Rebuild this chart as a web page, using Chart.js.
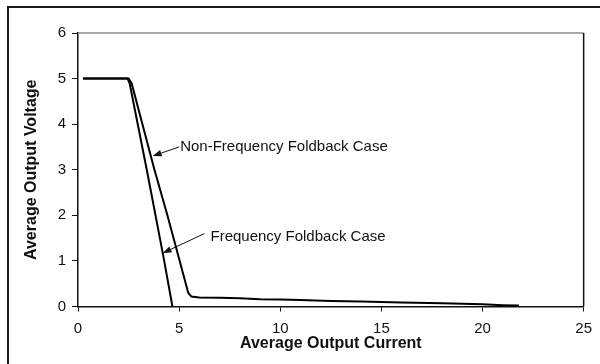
<!DOCTYPE html>
<html>
<head>
<meta charset="utf-8">
<script src="https://cdn.jsdelivr.net/npm/chart.js@4.4.1/dist/chart.umd.min.js"></script>
<style>
  html, body { margin: 0; padding: 0; background: #fff; }
  #wrap { position: relative; width: 600px; height: 364px; overflow: hidden; }
  #frame { position: absolute; left: 7px; top: 6px; width: 700px; height: 500px;
           border-left: 2.5px solid #1a1a1a; border-top: 2.5px solid #1a1a1a; pointer-events: none; }
  canvas { position: absolute; left: 0; top: 0; }
</style>
</head>
<body>
<div id="wrap">
  <canvas id="c" width="600" height="364"></canvas>
  <div id="frame"></div>
</div>
<script>
// Non-Frequency Foldback Case (current, voltage)
const nonFoldX = [0.25, 2.5, 2.65, 3.78, 4.42, 5.45, 5.6, 6, 7, 8, 9, 10, 11, 12.5, 14, 16, 18, 20, 21, 21.8];
const nonFoldY = [5, 5, 4.9, 3, 2, 0.3, 0.22, 0.2, 0.19, 0.18, 0.16, 0.155, 0.14, 0.12, 0.11, 0.09, 0.07, 0.05, 0.03, 0.02];
// Frequency Foldback Case
const foldX = [0.25, 2.45, 2.55, 3.4, 4.2, 4.67];
const foldY = [5, 5, 4.9, 3, 1.15, 0];

const xTicks = [0, 5, 10, 15, 20, 25];
const yTicks = [0, 1, 2, 3, 4, 5, 6];

const labelTexts = ['Non-Frequency Foldback Case', 'Frequency Foldback Case'];
const labelAt = [[5.05, 3.5], [6.55, 1.53]];
const arrowFrom = [[5.0, 3.5], [6.25, 1.6]];
const arrowTo = [[3.69, 3.3], [4.18, 1.17]];

const toPts = (xs, ys) => xs.map((x, i) => ({ x: x, y: ys[i] }));

const annotationPlugin = {
  id: 'annot',
  afterDatasetsDraw(chart) {
    const { ctx, scales: { x, y } } = chart;
    ctx.save();
    ctx.fillStyle = '#111';
    ctx.strokeStyle = '#111';
    ctx.font = '15px "Liberation Sans", Arial, sans-serif';
    ctx.textBaseline = 'middle';
    ctx.textAlign = 'left';
    labelTexts.forEach((t, i) => {
      ctx.fillText(t, x.getPixelForValue(labelAt[i][0]), y.getPixelForValue(labelAt[i][1]));
      const x0 = x.getPixelForValue(arrowFrom[i][0]), y0 = y.getPixelForValue(arrowFrom[i][1]);
      const x1 = x.getPixelForValue(arrowTo[i][0]), y1 = y.getPixelForValue(arrowTo[i][1]);
      const ang = Math.atan2(y1 - y0, x1 - x0);
      const L = 9, W = 3.2;
      const bx = x1 - L * Math.cos(ang), by = y1 - L * Math.sin(ang);
      ctx.lineWidth = 1;
      ctx.beginPath(); ctx.moveTo(x0, y0); ctx.lineTo(bx, by); ctx.stroke();
      ctx.beginPath();
      ctx.moveTo(x1, y1);
      ctx.lineTo(bx + W * Math.sin(ang), by - W * Math.cos(ang));
      ctx.lineTo(bx - W * Math.sin(ang), by + W * Math.cos(ang));
      ctx.closePath(); ctx.fill();
    });
    ctx.restore();
  }
};

const outlinePlugin = {
  id: 'outline',
  beforeDatasetsDraw(chart) {
    const { ctx, chartArea: a } = chart;
    ctx.save();
    ctx.lineWidth = 1.5;
    ctx.strokeStyle = '#8a8a8a';
    ctx.beginPath(); ctx.moveTo(a.left, a.top); ctx.lineTo(a.right, a.top); ctx.stroke();
    ctx.strokeStyle = '#111';
    ctx.beginPath(); ctx.moveTo(a.right, a.top); ctx.lineTo(a.right, a.bottom); ctx.stroke();
    ctx.restore();
  }
};

new Chart(document.getElementById('c'), {
  type: 'scatter',
  data: {
    datasets: [
      { label: 'Non-Frequency Foldback Case', data: toPts(nonFoldX, nonFoldY), showLine: true,
        borderColor: '#000', borderWidth: 2, pointRadius: 0, tension: 0, fill: false },
      { label: 'Frequency Foldback Case', data: toPts(foldX, foldY), showLine: true,
        borderColor: '#000', borderWidth: 2, pointRadius: 0, tension: 0, fill: false }
    ]
  },
  options: {
    responsive: false,
    animation: false,
    events: [],
    layout: { padding: { left: 0, top: 33, right: 11.5, bottom: 0 } },
    plugins: { legend: { display: false }, tooltip: { enabled: false } },
    scales: {
      x: {
        type: 'linear', min: 0, max: 25,
        afterBuildTicks: s => { s.ticks = xTicks.map(v => ({ value: v })); },
        afterFit: s => { s.height = 57.5; },
        grid: { drawOnChartArea: false, drawTicks: true, tickLength: 5, color: '#111', lineWidth: 1 },
        border: { display: true, color: '#111', width: 1.5 },
        ticks: { color: '#111', padding: 8, maxRotation: 0, font: { family: '"Liberation Sans", Arial, sans-serif', size: 15 } },
        title: { display: true, text: 'Average Output Current', color: '#111',
                 padding: { top: 0, bottom: 10.5 },
                 font: { family: '"Liberation Sans", Arial, sans-serif', size: 16, weight: 'bold' } }
      },
      y: {
        type: 'linear', min: 0, max: 6,
        afterBuildTicks: s => { s.ticks = yTicks.map(v => ({ value: v })); },
        afterFit: s => { s.width = 78; },
        grid: { drawOnChartArea: false, drawTicks: true, tickLength: 6, color: '#111', lineWidth: 1 },
        border: { display: true, color: '#111', width: 1.5 },
        ticks: { color: '#111', padding: 6, font: { family: '"Liberation Sans", Arial, sans-serif', size: 15 } },
        title: { display: true, text: 'Average Output Voltage', color: '#111',
                 padding: { top: 22.4, bottom: 0 },
                 font: { family: '"Liberation Sans", Arial, sans-serif', size: 16, weight: 'bold' } }
      }
    }
  },
  plugins: [outlinePlugin, annotationPlugin]
});
</script>
</body>
</html>
